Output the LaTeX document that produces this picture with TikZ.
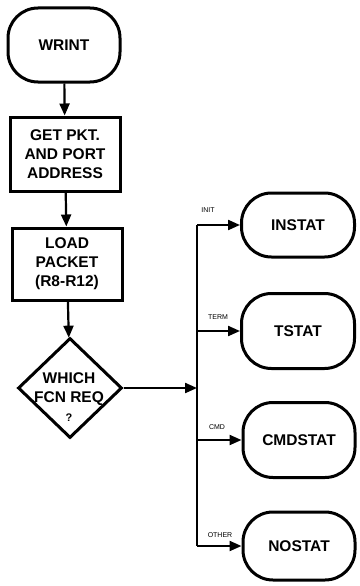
\documentclass[tikz,border=0pt]{standalone}
\usepackage{fontspec}
\setmainfont{Liberation Sans}
\usetikzlibrary{arrows.meta,shapes.geometric}
\begin{document}
\begin{tikzpicture}[x=1pt,y=-1pt,
  txt/.style={font=\fontsize{15.5}{19}\selectfont\bfseries,align=center},
  term/.style={draw,line width=3pt,rounded corners=30pt,inner sep=0pt,txt},
  proc/.style={draw,line width=3pt,inner sep=0pt,txt},
  dec/.style={draw,line width=3pt,diamond,inner sep=0pt,minimum width=104pt,minimum height=100pt},
  conn/.style={line width=2.2pt,-{Triangle[length=12pt,width=10pt]}},
  wire/.style={line width=2.2pt},
  lbl/.style={font=\fontsize{7}{8}\selectfont,inner sep=0pt}]
\useasboundingbox (0,0) rectangle (359,586);
\node[term,minimum width=112pt,minimum height=74pt] (wrint) at (64,45) {WRINT};
\node[proc,minimum width=110pt,minimum height=74pt] (get) at (65,154) {GET PKT.\\AND PORT\\ADDRESS};
\node[proc,minimum width=110pt,minimum height=72pt] (load) at (67,264) {LOAD\\PACKET\\(R8-R12)};
\node[dec] (which) at (70,388) {};
\node[txt,inner sep=0pt] (whichtxt) at (69,397) {WHICH\\FCN REQ\\{\fontsize{11}{12}\selectfont ?}};
\node[term,minimum width=113pt,minimum height=64pt] (instat) at (298,225) {INSTAT};
\node[term,minimum width=113pt,minimum height=75pt] (tstat) at (298,331) {TSTAT};
\node[term,minimum width=112pt,minimum height=75pt] (cmdstat) at (299,440) {CMDSTAT};
\node[term,minimum width=112pt,minimum height=68pt] (nostat) at (299,546) {NOSTAT};
\coordinate (bus) at (197,388);
\draw[conn] (wrint) -- (get);
\draw[conn] (get) -- (load);
\draw[conn] (load) -- (which);
\draw[conn] (which.east) -- (bus);
\draw[wire] (bus |- instat) -- (bus |- nostat);
\draw[conn] (bus |- instat) -- (instat.west);
\draw[conn] (bus |- tstat) -- (tstat.west);
\draw[conn] (bus |- cmdstat) -- (cmdstat.west);
\draw[conn] (bus |- nostat) -- (nostat.west);
\node[lbl] (linit) at (208,210) {INIT};
\node[lbl] (lterm) at (218,317) {TERM};
\node[lbl] (lcmd) at (217,427) {CMD};
\node[lbl] (lother) at (220,535) {OTHER};
\end{tikzpicture}
\end{document}
